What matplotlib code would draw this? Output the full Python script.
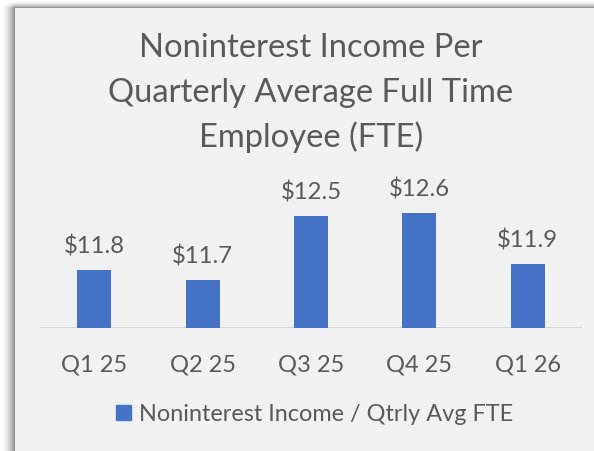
import numpy as np
import matplotlib
matplotlib.use("Agg")
import matplotlib.pyplot as plt
import matplotlib.transforms as mtransforms
from matplotlib.patches import Patch

categories = ["Q1 25", "Q2 25", "Q3 25", "Q4 25", "Q1 26"]
values = [11.79, 11.66, 12.53, 12.57, 11.87]
title_lines = ["Noninterest Income Per", "Quarterly Average Full Time", "Employee (FTE)"]
legend_label = "Noninterest Income / Qtrly Avg FTE"

W, H = 594, 451
BAR = "#4472C4"
TXT = "#595959"
PANEL = 0.949
FONT = "Lato"

fig = plt.figure(figsize=(W / 100, H / 100), dpi=100)

# background with soft shadow on the left and top edges
bg = fig.add_axes([0, 0, 1, 1])
bg.set_axis_off()
xs = np.arange(W)[None, :] + 0.5
ys = np.arange(H)[:, None] + 0.5
L, T = 15, 8
dl = np.where(xs < L, 0.45 * (xs / L) ** 2, 0.0)
dt = np.where(ys < T, 0.45 * (ys / T) ** 2, 0.0)
img = np.full((H, W), PANEL)
left = (xs < L) & (ys >= T)
top = (ys < T) & (xs >= L)
corner = (xs < L) & (ys < T)
img = np.where(left, 1 - dl, img)
img = np.where(top, 1 - dt, img)
img = np.where(corner, 1 - dl * dt / 0.45, img)
bg.imshow(np.dstack([img] * 3), extent=[0, W, H, 0], aspect="auto", interpolation="nearest")
bg.set_xlim(0, W)
bg.set_ylim(H, 0)

# plot area
x0, x1 = 40, 582
ybase, ytop = 328, 180
k = 73.0
ax = fig.add_axes([x0 / W, (H - ybase) / H, (x1 - x0) / W, (ybase - ytop) / H])
ax.patch.set_alpha(0)
ymin = 11.0
ax.set_ylim(ymin, ymin + (ybase - ytop) / k)
ax.set_xlim(-0.5, len(categories) - 0.5)
xpos = np.arange(len(categories))
ax.bar(xpos, [v - ymin for v in values], bottom=ymin, width=0.314, color=BAR, zorder=2)
ax.axhline(ymin, color="#d9d9d9", lw=1.5, zorder=1)
for s in ax.spines.values():
    s.set_visible(False)
ax.set_yticks([])
ax.set_xticks([])

fs_small = 17.2
for xi, v in zip(xpos, values):
    off = mtransforms.offset_copy(ax.transData, fig=fig, x=0, y=16.7 * 0.72, units="points")
    ax.text(xi, v, f"${v:.1f}", transform=off, ha="center", va="baseline",
            fontsize=fs_small, color=TXT, family=FONT)

tick_tr = mtransforms.blended_transform_factory(ax.transData, fig.transFigure)
for xi, c in zip(xpos, categories):
    ax.text(xi, (H - 371.7) / H, c, transform=tick_tr, ha="center", va="baseline",
            fontsize=17.0, color=TXT, family=FONT)

# title
for line, yb in zip(title_lines, [57.3, 101.7, 146.7]):
    fig.text(311 / W, (H - yb) / H, line, ha="center", va="baseline",
             fontsize=23.6, color=TXT, family=FONT)

# legend
fig.legend(handles=[Patch(color=BAR, label=legend_label)], loc="center",
           bbox_to_anchor=(314.7 / W, (H - 414.5) / H), frameon=False,
           prop={"family": FONT, "size": 16.9}, labelcolor=TXT,
           handlelength=0.6, handleheight=0.6, handletextpad=0.35)

fig.savefig("out.png", dpi=100)
